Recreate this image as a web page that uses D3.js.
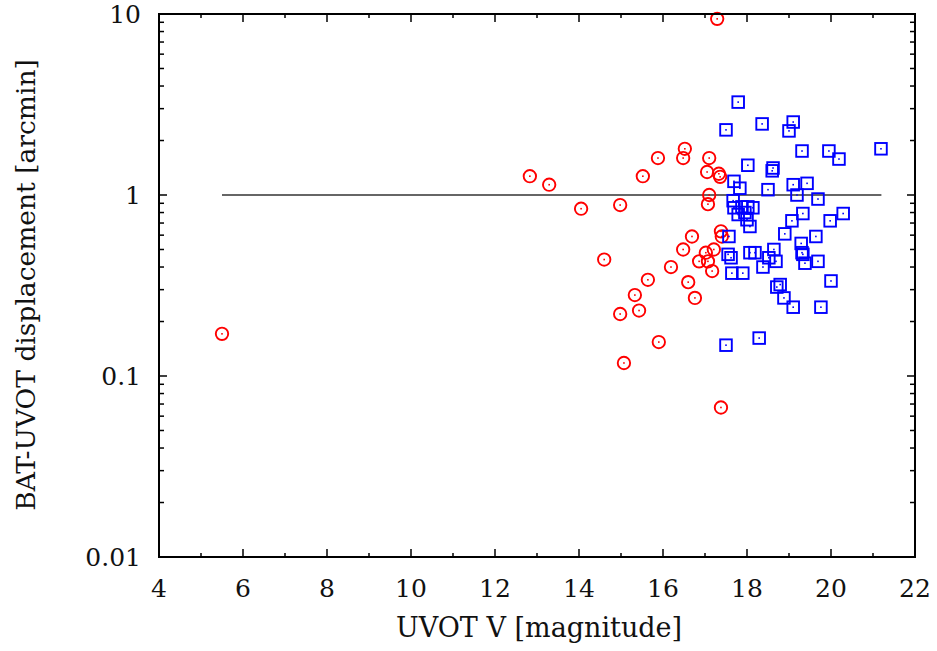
<!doctype html>
<html>
<head>
  <meta charset="UTF-8">
  <title>BAT-UVOT displacement</title>
  <script src="https://d3js.org/d3.v7.min.js"></script>
  <style>
    body { margin: 0; background: #fff; }
    text { font-family: "DejaVu Serif", "Liberation Serif", serif; fill: #111; }
  </style>
</head>
<body>
  <script>
    // red circles
    var redMag = [5.5, 12.83, 13.29, 14.05, 14.98, 14.60, 15.33, 15.43, 14.98, 15.07,
      15.52, 15.88, 15.64, 15.90, 16.19, 16.48, 16.52, 16.48, 16.60, 16.76,
      16.69, 16.86, 17.02, 17.10, 17.05, 17.10, 17.07, 17.17, 17.21, 17.07,
      17.33, 17.36, 17.38, 17.40, 17.29, 17.38];
    var redDisp = [0.171, 1.27, 1.14, 0.84, 0.88, 0.44, 0.28, 0.23, 0.22, 0.118,
      1.27, 1.60, 0.34, 0.154, 0.40, 0.50, 1.80, 1.60, 0.33, 0.27,
      0.59, 0.43, 0.48, 1.60, 1.34, 1.0, 0.89, 0.38, 0.50, 0.43,
      1.31, 1.26, 0.63, 0.59, 9.4, 0.067];
    // blue squares
    var blueMag = [17.79, 17.50, 18.36, 19.10, 19.00, 19.31, 19.95, 20.19, 21.19, 18.02,
      18.62, 18.60, 17.69, 17.83, 18.50, 19.10, 19.43, 19.19, 19.69, 17.67,
      17.69, 17.88, 18.02, 18.14, 17.95, 17.79, 18.00, 18.07, 19.33, 20.29,
      19.07, 19.98, 18.90, 19.64, 17.57, 19.29, 19.31, 19.33, 19.38, 19.69,
      18.64, 18.19, 18.07, 18.52, 18.69, 18.38, 17.55, 17.62, 17.64, 17.90,
      20.00, 18.71, 18.79, 18.88, 19.10, 19.76, 18.29, 17.50];
    var blueDisp = [3.26, 2.29, 2.47, 2.53, 2.26, 1.75, 1.75, 1.58, 1.80, 1.46,
      1.41, 1.36, 1.19, 1.09, 1.07, 1.14, 1.16, 1.0, 0.95, 0.93,
      0.85, 0.86, 0.86, 0.85, 0.80, 0.78, 0.73, 0.67, 0.79, 0.79,
      0.72, 0.72, 0.61, 0.59, 0.59, 0.54, 0.48, 0.47, 0.42, 0.43,
      0.50, 0.48, 0.48, 0.45, 0.43, 0.40, 0.47, 0.45, 0.37, 0.37,
      0.335, 0.31, 0.32, 0.27, 0.24, 0.24, 0.162, 0.148];
    // reference line at 1 arcmin
    var refMag = [5.5, 21.2];
    var refDisp = [1, 1];

    var xTicks = [4, 6, 8, 10, 12, 14, 16, 18, 20, 22];
    var xMinor = [5, 7, 9, 11, 13, 15, 17, 19, 21];
    var yTicks = [0.01, 0.1, 1, 10];
    var yTickLabels = ["0.01", "0.1", "1", "10"];

    var W = 937, H = 651;
    var mLeft = 159, mRight = 915, mTop = 14, mBottom = 557;

    var svg = d3.select("body").append("svg")
      .attr("width", W).attr("height", H);

    var x = d3.scaleLinear().domain([4, 22]).range([mLeft, mRight]);
    var y = d3.scaleLog().domain([0.01, 10]).range([mBottom, mTop]);

    var yMinor = [];
    [0.01, 0.1, 1].forEach(function(d) {
      for (var k = 2; k <= 9; k++) yMinor.push(d * k);
    });

    var g = svg.append("g");

    // ticks on all four sides, pointing inward
    function xticks(vals, len) {
      g.selectAll(null).data(vals).enter().append("line")
        .attr("x1", function(d) { return x(d); }).attr("x2", function(d) { return x(d); })
        .attr("y1", mBottom).attr("y2", mBottom - len)
        .attr("stroke", "#000").attr("stroke-width", 1.5);
      g.selectAll(null).data(vals).enter().append("line")
        .attr("x1", function(d) { return x(d); }).attr("x2", function(d) { return x(d); })
        .attr("y1", mTop).attr("y2", mTop + len)
        .attr("stroke", "#000").attr("stroke-width", 1.5);
    }
    function yticks(vals, len) {
      g.selectAll(null).data(vals).enter().append("line")
        .attr("y1", function(d) { return y(d); }).attr("y2", function(d) { return y(d); })
        .attr("x1", mLeft).attr("x2", mLeft + len)
        .attr("stroke", "#000").attr("stroke-width", 1.5);
      g.selectAll(null).data(vals).enter().append("line")
        .attr("y1", function(d) { return y(d); }).attr("y2", function(d) { return y(d); })
        .attr("x1", mRight).attr("x2", mRight - len)
        .attr("stroke", "#000").attr("stroke-width", 1.5);
    }
    xticks(xTicks, 8);
    xticks(xMinor, 4);
    yticks(yTicks, 8);
    yticks(yMinor, 5);

    // tick labels
    g.selectAll(null).data(xTicks).enter().append("text")
      .attr("x", function(d) { return x(d); })
      .attr("y", 597)
      .attr("text-anchor", "middle")
      .style("font-size", "25px")
      .text(function(d) { return d; });
    g.selectAll(null).data(yTicks).enter().append("text")
      .attr("x", 141)
      .attr("y", function(d) { return y(d); })
      .attr("dy", "0.36em")
      .attr("text-anchor", "end")
      .style("font-size", "25px")
      .text(function(d, i) { return yTickLabels[i]; });

    // axis titles
    svg.append("text")
      .attr("x", 539).attr("y", 637)
      .attr("text-anchor", "middle")
      .style("font-size", "27px")
      .text("UVOT V [magnitude]");
    svg.append("text")
      .attr("transform", "translate(35," + 285 + ") rotate(-90)")
      .attr("text-anchor", "middle")
      .style("font-size", "26.5px")
      .text("BAT-UVOT displacement [arcmin]");

    // reference line
    g.append("line")
      .attr("x1", x(refMag[0])).attr("x2", x(refMag[1]))
      .attr("y1", y(refDisp[0])).attr("y2", y(refDisp[1]))
      .attr("stroke", "#333").attr("stroke-width", 1.5);

    // red circles
    var red = redMag.map(function(m, i) { return [m, redDisp[i]]; });
    var rg = g.selectAll(".red").data(red).enter().append("g")
      .attr("transform", function(d) { return "translate(" + x(d[0]) + "," + y(d[1]) + ")"; });
    rg.append("circle").attr("r", 6.2).attr("fill", "none")
      .attr("stroke", "#ff0000").attr("stroke-width", 1.9);
    rg.append("rect").attr("x", -0.8).attr("y", -0.8).attr("width", 1.6).attr("height", 1.6)
      .attr("fill", "#ff0000");

    // blue squares
    var blue = blueMag.map(function(m, i) { return [m, blueDisp[i]]; });
    var bg = g.selectAll(".blue").data(blue).enter().append("g")
      .attr("transform", function(d) { return "translate(" + x(d[0]) + "," + y(d[1]) + ")"; });
    bg.append("rect").attr("x", -5.8).attr("y", -5.8).attr("width", 11.6).attr("height", 11.6)
      .attr("fill", "none").attr("stroke", "#0000ff").attr("stroke-width", 1.9);
    bg.append("rect").attr("x", -0.8).attr("y", -0.8).attr("width", 1.6).attr("height", 1.6)
      .attr("fill", "#0000ff");

    // frame
    g.append("rect")
      .attr("x", mLeft).attr("y", mTop)
      .attr("width", mRight - mLeft).attr("height", mBottom - mTop)
      .attr("fill", "none").attr("stroke", "#000").attr("stroke-width", 2);
  </script>
</body>
</html>
